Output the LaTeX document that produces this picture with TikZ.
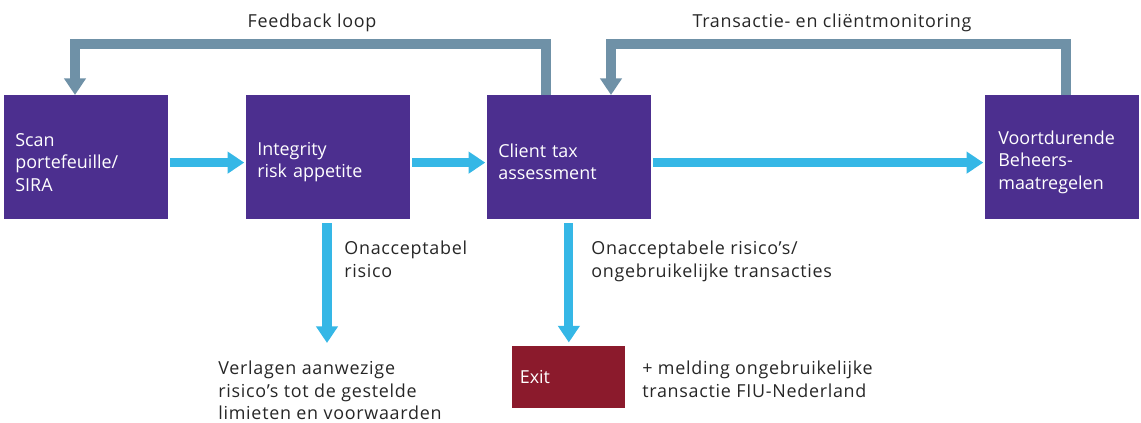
\documentclass[tikz,border=0pt]{standalone}
\usepackage{fontspec}
\setmainfont{Open Sans}
\newfontfamily\lblfont{Open Sans}[LetterSpace=4]
\usetikzlibrary{positioning}
\usetikzlibrary{calc}
\usetikzlibrary{arrows.meta}
\definecolor{rijkspaars}{RGB}{76, 47, 143}
\definecolor{rijksblauw}{RGB}{53, 183, 230}
\definecolor{rijksgrijs}{RGB}{111, 145, 167}
\definecolor{rijksrood}{RGB}{139, 26, 44}

\begin{document}
\begin{tikzpicture}[
    x=0.02cm, y=-0.02cm,
    font=\fontsize{10.2pt}{12.8pt}\selectfont,
    % node styles
    box/.style = {
      draw=none,
      fill=rijkspaars,
      anchor=north west,
      minimum width=3.28cm,
      minimum height=2.48cm,
      inner xsep=0.22cm,
      text width=2.84cm,
      text height=13pt,
      align=left,
      text=white
    },
    exitbox/.style = {
      draw=none,
      fill=rijksrood,
      anchor=north west,
      minimum width=2.26cm,
      minimum height=1.24cm,
      inner xsep=0.15cm,
      text width=1.96cm,
      align=left,
      text=white
    },
    lbl/.style = {
      inner sep=0pt,
      align=left,
      font=\fontsize{10.2pt}{12.8pt}\lblfont,
      text=black!85
    },
    % arrow styles
    arr/.style = {-{Triangle[width=12pt,length=9.5pt]}, line width=5.2pt, draw=rijksblauw},
    fbarr/.style = {-{Triangle[width=12pt,length=9.5pt]}, line width=5.2pt, draw=rijksgrijs, line join=miter}
  ]
  \useasboundingbox (0,0) rectangle (1141,422);

  % --- Nodes
  \node[box] (scan) at (4,95) {Scan\\portefeuille/\\SIRA};

  \node[box] (integ) at (246,95) {Integrity\\risk appetite};

  \node[box] (client) at (487,95) {Client tax\\assessment};

  \node[box, minimum width=3.08cm, inner xsep=0.26cm, text width=2.56cm] (beheer) at (985,95) {Voortdurende\\Beheers-\\maatregelen};

  \node[exitbox] (exit) at (512,346) {Exit};

  % --- Labels
  \node[lbl, anchor=north] (fblbl) at (312,14) {Feedback loop};
  \node[lbl, anchor=north] (tmlbl) at (832,14) {Transactie- en cliëntmonitoring};
  \node[lbl, anchor=north west] (risklbl) at (344,241) {Onacceptabel\\risico};
  \node[lbl, anchor=north west] (exitlbl) at (591,241) {Onacceptabele risico’s/\\ongebruikelijke transacties};
  \node[lbl, anchor=north west] (verlagen) at (218,361) {Verlagen aanwezige\\risico’s tot de gestelde\\limieten en voorwaarden};
  \node[lbl, anchor=north west] (melding) at (642,361) {+ melding ongebruikelijke\\transactie FIU-Nederland};

  % --- Arrows
  \draw[arr, shorten <=1pt, shorten >=1pt] ([yshift=-3pt]scan.east) -- ([yshift=-3pt]integ.west);
  \draw[arr, shorten <=1pt, shorten >=1pt] ([yshift=-3pt]integ.east) -- ([yshift=-3pt]client.west);
  \draw[arr, shorten <=1pt, shorten >=1pt] ([yshift=-3pt]client.east) -- ([yshift=-3pt]beheer.west);

  \coordinate (riskend) at (327,343);
  \draw[arr, shorten <=2pt] (riskend |- integ.south) -- (riskend);
  \draw[arr, shorten <=2pt, shorten >=2pt] (exit.north |- client.south) -- (exit.north);

  % loops over the top
  \coordinate (fbA) at (546,44);
  \coordinate (fbB) at (75,44);
  \draw[fbarr] (fbA |- client.north) -- (fbA) -- (fbB) -- (fbB |- scan.north);

  \coordinate (tmA) at (1066,44);
  \coordinate (tmB) at (611,44);
  \draw[fbarr] (tmA |- beheer.north) -- (tmA) -- (tmB) -- (tmB |- client.north);

\end{tikzpicture}
\end{document}
